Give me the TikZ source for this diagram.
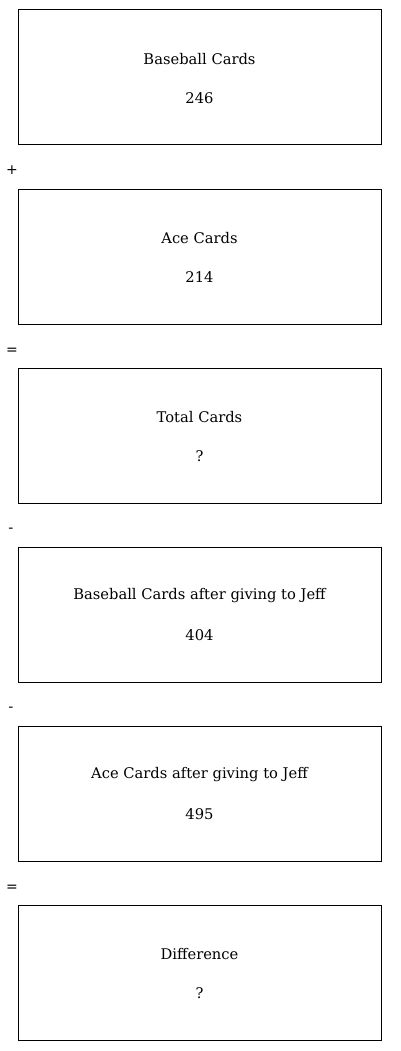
\documentclass[tikz,border=0pt]{standalone}
\usepackage{tikz}
\usepackage{fontspec}
\setmainfont{DejaVu Serif}
\setsansfont{DejaVu Sans}
\usetikzlibrary{positioning}
\tikzset{
    card/.style={draw, line width=1pt, minimum width=363pt, minimum height=135pt, inner sep=0pt},
    cardtext/.style={font=\fontsize{14.7}{17}\selectfont, inner sep=0pt},
    oper/.style={font=\sffamily\fontsize{14}{16}\selectfont, inner sep=0pt}
}

\begin{document}
\begin{tikzpicture}[x=1pt, y=-1pt]
    \useasboundingbox (0, 0) rectangle (400, 1051);
    % boxes
    \node[card](baseball) at(199.5, 77.5){};
    \node[card](ace) at(199.5, 256.5){};
    \node[card](total) at(199.5, 435.5){};
    \node[card](basejeff) at(199.5, 614.5){};
    \node[card](acejeff) at(199.5, 793.5){};
    \node[card](diff) at(199.5, 972.5){};
    % titles and values
    \node[cardtext](baseballT) at([yshift=18.5pt]baseball.center){Baseball Cards};
    \node[cardtext](baseballV) at([yshift=-20.5pt]baseball.center){246};
    \node[cardtext](aceT) at([yshift=18.5pt]ace.center){Ace Cards};
    \node[cardtext](aceV) at([yshift=-20.5pt]ace.center){214};
    \node[cardtext](totalT) at([yshift=18.5pt]total.center){Total Cards};
    \node[cardtext](totalV) at([yshift=-20.5pt]total.center){?};
    \node[cardtext](basejeffT) at([yshift=18.5pt]basejeff.center){Baseball Cards after giving to Jeff};
    \node[cardtext](basejeffV) at([yshift=-20.5pt]basejeff.center){404};
    \node[cardtext](acejeffT) at([yshift=18.5pt]acejeff.center){Ace Cards after giving to Jeff};
    \node[cardtext](acejeffV) at([yshift=-20.5pt]acejeff.center){495};
    \node[cardtext](diffT) at([yshift=18.5pt]diff.center){Difference};
    \node[cardtext](diffV) at([yshift=-20.5pt]diff.center){?};
    % operators
    \node[oper](plus) at(12, 170){+};
    \node[oper](eqA) at(12, 351){=};
    \node[oper](minA) at(11, 530.5){-};
    \node[oper](minB) at(11, 709.5){-};
    \node[oper](eqB) at(12, 888){=};
\end{tikzpicture}
\end{document}
